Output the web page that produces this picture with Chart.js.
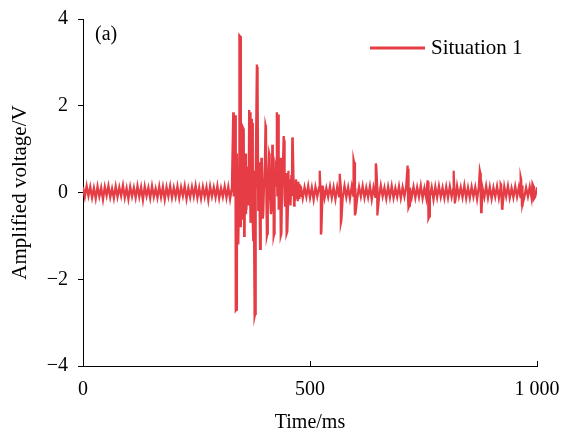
<!DOCTYPE html>
<html>
<head>
<meta charset="utf-8">
<script src="https://cdn.jsdelivr.net/npm/chart.js@4/dist/chart.umd.min.js"></script>
<style>
  html, body { margin: 0; padding: 0; background: #fff; }
  #wrap { width: 563px; height: 432px; }
</style>
</head>
<body>
<div id="wrap"><canvas id="signalChart" width="563" height="432"></canvas></div>
<script>
// baseline noise, one sample every 4 ms from 0 to 1000 ms
var noiseStep = 4;
var noiseValues = [
  0.12, -0.10, 0.15, -0.08, 0.13, -0.12, 0.10, -0.14, 0.14, -0.09,
  0.11, -0.16, 0.13, -0.07, 0.15, -0.11, 0.09, -0.13, 0.14, -0.10,
  0.12, -0.08, 0.16, -0.12, 0.10, -0.15, 0.13, -0.09, 0.11, -0.12,
  0.15, -0.10, 0.12, -0.17, 0.14, -0.08, 0.11, -0.13, 0.15, -0.10,
  0.09, -0.12, 0.14, -0.11, 0.13, -0.16, 0.12, -0.09, 0.15, -0.12,
  0.11, -0.10, 0.14, -0.13, 0.12, -0.08, 0.15, -0.15, 0.10, -0.11,
  0.13, -0.09, 0.16, -0.12, 0.11, -0.14, 0.13, -0.10, 0.12, -0.17,
  0.14, -0.09, 0.12, -0.11, 0.15, -0.13, 0.10, -0.10, 0.14, -0.12,
  0.13, -0.15, 0.11, -0.09, 0.15, -0.12, 0.12, -0.10, 0.16, -0.14,
  0.11, -0.11, 0.13, -0.16, 0.14, -0.09, 0.12, -0.13, 0.15, -0.10,
  0.10, -0.12, 0.14, -0.11, 0.12, -0.15, 0.13, -0.09, 0.11, -0.12,
  0.15, -0.10, 0.12, -0.14, 0.14, -0.08, 0.13, -0.12, 0.10, -0.11,
  0.14, -0.13, 0.12, -0.10, 0.15, -0.12, 0.11, -0.16, 0.13, -0.09,
  0.12, -0.11, 0.16, -0.13, 0.10, -0.10, 0.14, -0.12, 0.12, -0.15,
  0.13, -0.09, 0.11, -0.12, 0.15, -0.11, 0.12, -0.14, 0.14, -0.10,
  0.10, -0.13, 0.13, -0.09, 0.15, -0.12, 0.11, -0.11, 0.14, -0.16,
  0.12, -0.10, 0.13, -0.12, 0.16, -0.09, 0.11, -0.14, 0.13, -0.11,
  0.15, -0.12, 0.10, -0.10, 0.14, -0.13, 0.12, -0.09, 0.15, -0.15,
  0.11, -0.11, 0.13, -0.12, 0.12, -0.10, 0.16, -0.13, 0.10, -0.12,
  0.14, -0.09, 0.12, -0.16, 0.13, -0.11, 0.15, -0.10, 0.11, -0.13,
  0.13, -0.12, 0.14, -0.10, 0.10, -0.14, 0.15, -0.09, 0.12, -0.11,
  0.16, -0.13, 0.11, -0.12, 0.13, -0.10, 0.12, -0.15, 0.14, -0.09,
  0.10, -0.11, 0.15, -0.12, 0.13, -0.14, 0.11, -0.10, 0.14, -0.13,
  0.12, -0.16, 0.13, -0.09, 0.15, -0.12, 0.10, -0.11, 0.14, -0.10,
  0.12, -0.13, 0.16, -0.11, 0.11, -0.09, 0.13, -0.12, 0.15, -0.10,
  0.12
];

// impulse events [time ms, voltage V]
var spikeTimes = [
  331, 332, 334, 336, 337, 338, 339, 340, 342, 344, 345, 346, 347, 348, 349, 351,
  352, 354, 355, 356, 357, 359, 360, 362, 363, 365, 366, 368,
  369, 370, 371, 373, 374, 375, 376, 378, 379, 380, 381, 383, 384, 385, 386, 387,
  388, 390, 391, 393, 394, 396, 397, 399, 400, 402, 403,
  405, 406, 407, 408, 410, 411, 414, 415, 417, 418, 420, 421, 422, 424, 426, 427,
  430, 431, 433, 434, 435, 436, 437, 439, 440, 442, 443, 445, 446,
  448, 449, 450, 452, 453, 455, 456, 458, 459, 461, 462, 465, 466, 469, 470,
  473, 474, 476, 477, 478, 479, 480,
  521, 522, 524, 525, 565, 566, 568, 569, 596, 597, 599, 600, 645, 646, 648, 649,
  715, 716, 718, 719, 759, 760, 762, 763, 816, 817, 819, 820, 874, 875, 877, 878,
  920, 921, 923, 924, 964, 965, 967, 968, 990, 993
];
var spikeValues = [
  1.85, 1.8, 0.4, 1.78, -2.72, -2.7, 0.9, 0.5, -1.2, 0.3, 3.62, 3.6, -0.8, 0.2, 1.0, -0.6,
  1.5, 1.45, -1.0, -0.9, 0.9, -0.5, -0.4, 0.6, 0.5, -0.3, 1.9, 1.85,
  -0.3, -0.7, 1.7, 1.6, -0.7, -1.1, 0.5, -2.85, -2.8, 0.4, 0.3, 2.95, 2.9, 2.6, -0.4, -0.3,
  0.7, -1.3, -1.2, 0.8, 0.7, -0.6, -0.5, 0.3, 0.2, 1.55, 1.5,
  -1.0, -0.95, 0.4, 0.3, 0.9, 0.85, -0.5, -0.4, 1.1, 1.0, -1.0, -0.95, 0.3, 0.6, 0.5, 1.85,
  1.8, -0.4, -0.3, 0.8, 0.7, -1.0, -0.95, 0.5, 0.4, 1.3, 1.2, -0.3, -0.2,
  0.45, -0.95, -0.9, 0.5, 0.4, -0.2, 0.3, -0.3, 0.4, 1.27, 1.2, -0.3, -0.2, 0.3, 0.2,
  -0.2, 0.25, -0.15, 0.2, 0.1, -0.1, 0.15,
  0.5, 0.45, -0.97, -0.9, 0.43, 0.4, -0.7, -0.65, 0.75, 0.7, -0.53, -0.5, 0.67, 0.6, -0.53, -0.5,
  0.62, 0.55, -0.35, -0.3, 0.28, 0.25, -0.6, -0.55, 0.5, 0.45, -0.25, -0.2, 0.5, 0.45, -0.45, -0.4,
  0.2, 0.18, -0.37, -0.33, 0.35, 0.3, -0.3, -0.28, 0.2, -0.15
];

var xTicks = [0, 500, 1000];
var yTicks = [-4, -2, 0, 2, 4];
var seriesLabel = 'Situation 1';

// merge baseline and impulses into one time-ordered trace
var points = [];
for (var i = 0; i < noiseValues.length; i++) {
  points.push({ x: i * noiseStep, y: noiseValues[i] });
}
for (var j = 0; j < spikeTimes.length; j++) {
  points.push({ x: spikeTimes[j], y: spikeValues[j] });
}
points.sort(function (a, b) { return a.x - b.x; });

var lineColor = 'rgb(229, 60, 70)';
var serif = '"Liberation Serif", "Times New Roman", serif';

function fmtNum(v) {
  if (v === 1000) return '1 000';
  return v < 0 ? '\u2212' + Math.abs(v) : String(v);
}

// inward x ticks, panel tag and legend drawn inside the plot
var extrasPlugin = {
  id: 'extras',
  afterDraw: function (chart) {
    var ctx = chart.ctx;
    var xs = chart.scales.x;
    var area = chart.chartArea;
    ctx.save();
    ctx.strokeStyle = '#000';
    ctx.lineWidth = 1;
    xTicks.forEach(function (t) {
      if (t === 0) return;
      var px = Math.round(xs.getPixelForValue(t)) + 0.5;
      ctx.beginPath();
      ctx.moveTo(px, area.bottom);
      ctx.lineTo(px, area.bottom - 5);
      ctx.stroke();
    });
    ctx.fillStyle = '#000';
    ctx.font = '20px ' + serif;
    ctx.textBaseline = 'middle';
    ctx.textAlign = 'left';
    ctx.fillText('(a)', area.left + 12, area.top + 16);
    ctx.strokeStyle = lineColor;
    ctx.lineWidth = 3;
    ctx.beginPath();
    ctx.moveTo(370, 48);
    ctx.lineTo(425, 48);
    ctx.stroke();
    ctx.font = '21px ' + serif;
    ctx.fillText(seriesLabel, 431, 48);
    ctx.restore();
  }
};

document.addEventListener('DOMContentLoaded', function () {
  var ctx = document.getElementById('signalChart').getContext('2d');

  new Chart(ctx, {
    type: 'line',
    data: {
      datasets: [{
        label: seriesLabel,
        data: points,
        borderColor: lineColor,
        borderWidth: 2.3,
        pointRadius: 0,
        tension: 0,
        fill: false
      }]
    },
    options: {
      responsive: false,
      animation: false,
      maintainAspectRatio: false,
      layout: { padding: { left: 8, top: 19, right: 26, bottom: 0 } },
      plugins: {
        legend: { display: false },
        tooltip: { enabled: false }
      },
      scales: {
        x: {
          type: 'linear',
          min: 0,
          max: 1000,
          afterBuildTicks: function (scale) {
            scale.ticks = xTicks.map(function (v) { return { value: v }; });
          },
          afterFit: function (scale) {
            scale.height = 66;
            scale.paddingLeft = 0;
            scale.paddingRight = 0;
          },
          grid: { display: true, drawOnChartArea: false, drawTicks: false, color: '#000' },
          border: { display: true, color: '#000', width: 1 },
          ticks: {
            color: '#000',
            padding: 12,
            maxRotation: 0,
            font: { family: serif, size: 20 },
            callback: function (v) { return fmtNum(v); }
          },
          title: {
            display: true,
            text: 'Time/ms',
            color: '#000',
            font: { family: serif, size: 20 },
            padding: { top: 6, bottom: -3 }
          }
        },
        y: {
          min: -4,
          max: 4,
          afterBuildTicks: function (scale) {
            scale.ticks = yTicks.map(function (v) { return { value: v }; });
          },
          afterFit: function (scale) {
            scale.width = 75;
            scale.paddingTop = 0;
            scale.paddingBottom = 0;
          },
          grid: { display: true, drawOnChartArea: false, drawTicks: true, tickLength: 5, color: '#000' },
          border: { display: true, color: '#000', width: 1 },
          ticks: {
            color: '#000',
            padding: 10,
            font: { family: serif, size: 20 },
            callback: function (v) { return fmtNum(v); }
          },
          title: {
            display: true,
            text: 'Amplified voltage/V',
            color: '#000',
            font: { family: serif, size: 21 },
            padding: { top: 0, bottom: 4 }
          }
        }
      }
    },
    plugins: [extrasPlugin]
  });
});
</script>
</body>
</html>
